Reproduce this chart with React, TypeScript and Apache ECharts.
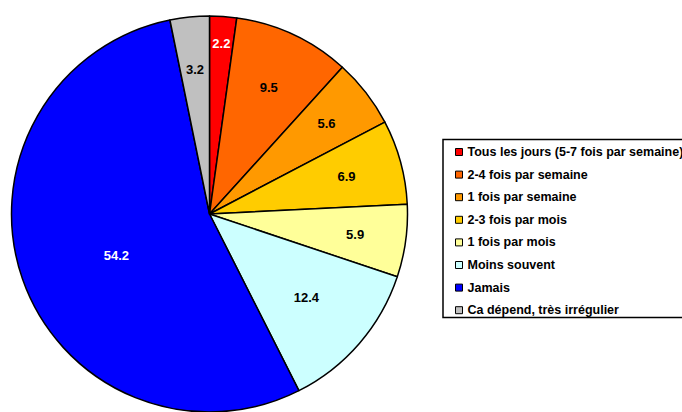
import React, { useEffect, useRef } from "react";
import * as echarts from "echarts";

const categories = [
  "Tous les jours (5-7 fois par semaine)",
  "2-4 fois par semaine",
  "1 fois par semaine",
  "2-3 fois par mois",
  "1 fois par mois",
  "Moins souvent",
  "Jamais",
  "Ca dépend, très irrégulier",
];
const values = [2.2, 9.5, 5.6, 6.9, 5.9, 12.4, 54.2, 3.2];

const colors = ["#FF0000", "#FF6600", "#FF9900", "#FFCC00", "#FFFF99", "#CCFFFF", "#0000FF", "#C0C0C0"];
const labelColors = ["#FFFFFF", "#000000", "#000000", "#000000", "#000000", "#000000", "#FFFFFF", "#000000"];
// label placement (radius in px from center, angular shift in degrees)
const labelRadius = [171, 140, 148, 142, 147, 128, 102, 145];
const labelAngleShift = [0, 0, 0, 0, 0, 0, -5, 0];

const CX = 209.5;
const CY = 214;
const R = 198;

export default function App() {
  const ref = useRef<HTMLDivElement>(null);
  useEffect(() => {
    if (!ref.current) return;
    const chart = echarts.init(ref.current, null, { renderer: "svg" });
    const total = values.reduce((a, b) => a + b, 0);
    const cum: number[] = [];
    let acc = 0;
    values.forEach((v) => {
      cum.push(acc + v / 2);
      acc += v;
    });
    const font = "'Liberation Sans', Arial, sans-serif";
    chart.setOption({
      animation: false,
      textStyle: { fontFamily: font },
      graphic: [
        {
          type: "rect",
          shape: { x: 443, y: 139.5, width: 300, height: 178 },
          style: { fill: "#FFFFFF", stroke: "#000000", lineWidth: 1.5 },
          z: 0,
        },
      ],
      legend: {
        orient: "vertical",
        left: 450,
        top: 140,
        padding: 5,
        itemWidth: 7,
        itemHeight: 7,
        itemGap: 8.6,
        icon: "rect",
        z: 5,
        itemStyle: { borderColor: "#000000", borderWidth: 1 },
        textStyle: {
          fontFamily: font,
          fontSize: 12.5,
          fontWeight: 700,
          color: "#000000",
          lineHeight: 14,
        },
        data: categories,
      },
      series: [
        {
          type: "pie",
          center: [CX, CY],
          radius: [0, R],
          startAngle: 90,
          clockwise: true,
          avoidLabelOverlap: false,
          labelLine: { show: false },
          itemStyle: { borderColor: "#000000", borderWidth: 1.5 },
          emphasis: { disabled: true },
          label: {
            show: true,
            position: "inside",
            fontFamily: font,
            fontSize: 13,
            fontWeight: "bold",
            formatter: (p: any) => values[p.dataIndex].toFixed(1),
          },
          labelLayout: (p: any) => {
            const i = p.dataIndex;
            const ang = ((cum[i] / total) * 360 + labelAngleShift[i]) * (Math.PI / 180);
            const r = labelRadius[i];
            return {
              x: CX + r * Math.sin(ang),
              y: CY - r * Math.cos(ang),
              align: "center",
              verticalAlign: "middle",
            };
          },
          data: categories.map((c, i) => ({
            name: c,
            value: values[i],
            itemStyle: { color: colors[i] },
            label: { color: labelColors[i] },
          })),
        },
      ],
    });
    return () => chart.dispose();
  }, []);
  return (
    <div
      ref={ref}
      style={{ position: "fixed", left: 0, top: 0, width: 682, height: 412, background: "#FFFFFF" }}
    />
  );
}
